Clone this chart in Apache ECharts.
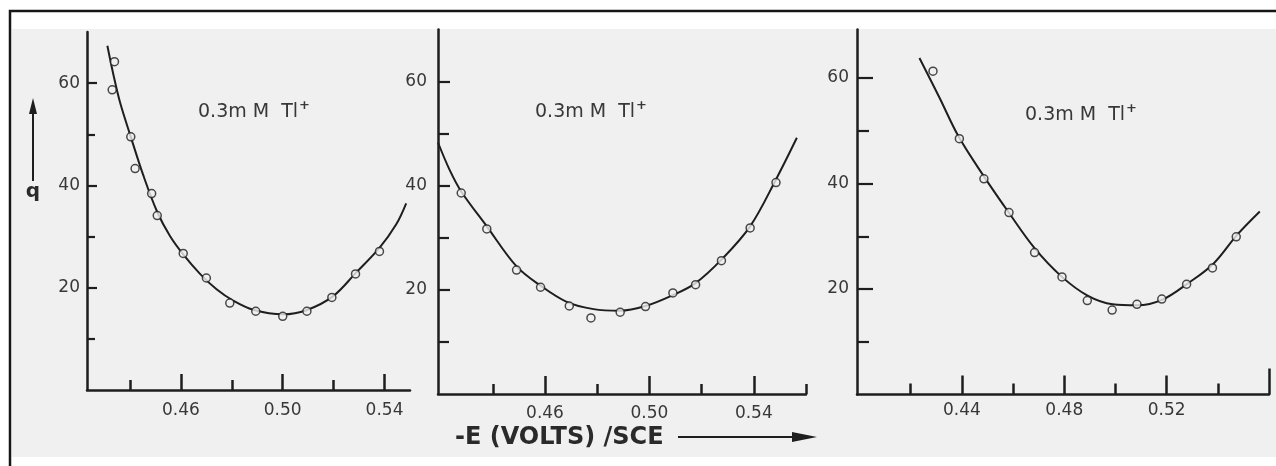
<!DOCTYPE html>
<html>
<head>
<meta charset="utf-8">
<title>Differential capacity q vs potential, 0.3 mM Tl+</title>
<script src="https://cdn.jsdelivr.net/npm/echarts@6/dist/echarts.min.js"></script>
<style>
  html, body { margin: 0; padding: 0; background: #ffffff; }
  #chart { width: 1276px; height: 466px; }
</style>
</head>
<body>
<div id="chart"></div>
<script>
// ---- measured points (open circles) and fitted curves, one set per panel ----
const e1 = [0.4339, 0.4330, 0.4403, 0.4420, 0.4485, 0.4507, 0.4609, 0.4700, 0.4792, 0.4894, 0.5000, 0.5095, 0.5193, 0.5286, 0.5380];
const q1 = [64.2, 58.7, 49.5, 43.3, 38.4, 34.1, 26.7, 21.9, 17.0, 15.4, 14.4, 15.4, 18.1, 22.7, 27.1];
const fitE1 = [0.4311, 0.4335, 0.4361, 0.4403, 0.4452, 0.4507, 0.4557, 0.4609, 0.4675, 0.4740, 0.4805, 0.4884, 0.5001, 0.5093, 0.5197, 0.5289, 0.5380, 0.5446, 0.5485];
const fitQ1 = [67.3, 61.6, 56.2, 49.5, 42.0, 34.8, 30.1, 26.5, 22.7, 19.7, 17.5, 15.7, 14.8, 15.6, 18.3, 23.0, 27.8, 32.4, 36.5];

const e2 = [0.4279, 0.4377, 0.4491, 0.4583, 0.4693, 0.4776, 0.4888, 0.4985, 0.5090, 0.5177, 0.5276, 0.5386, 0.5485];
const q2 = [38.6, 31.7, 23.8, 20.5, 16.9, 14.6, 15.7, 16.8, 19.4, 21.0, 25.6, 31.9, 40.6];
const fitE2 = [0.4190, 0.4234, 0.4279, 0.4377, 0.4491, 0.4583, 0.4683, 0.4786, 0.4888, 0.4985, 0.5090, 0.5177, 0.5276, 0.5386, 0.5485, 0.5565];
const fitQ2 = [48.3, 43.1, 38.9, 32.2, 24.5, 20.8, 17.7, 16.3, 16.0, 16.9, 19.0, 21.3, 25.8, 32.2, 41.2, 49.2];

const e3 = [0.4287, 0.4390, 0.4486, 0.4584, 0.4684, 0.4791, 0.4890, 0.4987, 0.5084, 0.5181, 0.5278, 0.5379, 0.5472];
const q3 = [61.3, 48.5, 40.9, 34.5, 26.9, 22.3, 17.8, 16.0, 17.1, 18.1, 20.9, 24.0, 29.9];
const fitE3 = [0.4234, 0.4312, 0.4387, 0.4484, 0.4583, 0.4683, 0.4791, 0.4891, 0.4989, 0.5086, 0.5184, 0.5281, 0.5383, 0.5476, 0.5564];
const fitQ3 = [63.8, 56.3, 48.9, 41.5, 34.5, 27.8, 22.3, 18.75, 17.1, 16.9, 18.0, 21.0, 24.8, 30.3, 34.7];

// ---- tick positions ----
const xMajor1 = [0.46, 0.50, 0.54];
const xMinor1 = [0.44, 0.48, 0.52];
const xMajor2 = [0.46, 0.50, 0.54];
const xMinor2 = [0.44, 0.48, 0.52, 0.56];
const xMajor3 = [0.44, 0.48, 0.52];
const xMinor3 = [0.42, 0.46, 0.50, 0.54];
const xEnd3 = [0.56];
const yMajor = [20, 40, 60];
const yMinor = [10, 30, 50];

const panelLabel = '0.3m M  Tl';
const xTitle = '-E (VOLTS) /SCE';
const yTitle = 'q';

const INK = '#1e1e1e';
const TXT = '#383838';
const BG = '#f0f0f0';
const FONT = 'DejaVu Sans';

const zip = (a, b) => a.map((v, i) => [v, b[i]]);

// panel frames in pixels
const panels = [
  { left: 87,  top: 32,   width: 323, height: 358, xMin: 0.4231, xMax: 0.55, yMax: 70,
    major: xMajor1, minor: xMinor1, xMargin: 12, yMargin: 7, yTick: [10, 8], xTick: [16, 10] },
  { left: 438, top: 29.5, width: 368, height: 364.5, xMin: 0.419, xMax: 0.56, yMax: 70,
    major: xMajor2, minor: xMinor2, xMargin: 11, yMargin: 11, yTick: [12, 11], xTick: [18, 10] },
  { left: 857, top: 29.5, width: 412, height: 365, xMin: 0.399, xMax: 0.56, yMax: 69.2,
    major: xMajor3, minor: xMinor3, xMargin: 8, yMargin: 8, yTick: [16, 12], xTick: [19, 11] }
];

const grid = [], xAxis = [], yAxis = [];
panels.forEach((p, i) => {
  grid.push({ left: p.left, top: p.top, width: p.width, height: p.height, containLabel: false });
  const common = { type: 'value', gridIndex: i, min: p.xMin, max: p.xMax, splitLine: { show: false } };
  // main x axis: line, long ticks, labels
  xAxis.push(Object.assign({}, common, {
    position: 'bottom',
    axisLine: { show: true, onZero: false, lineStyle: { color: INK, width: 2.5 } },
    axisTick: { show: true, inside: true, length: p.xTick[0], customValues: p.major, lineStyle: { color: INK, width: 2.5 } },
    axisLabel: { show: true, customValues: p.major, margin: p.xMargin, color: TXT, fontFamily: FONT, fontSize: 17,
      formatter: v => v.toFixed(2) }
  }));
  // short intermediate ticks
  xAxis.push(Object.assign({}, common, {
    position: 'bottom',
    axisLine: { show: false, onZero: false },
    axisTick: { show: true, inside: true, length: p.xTick[1], customValues: p.minor, lineStyle: { color: INK, width: 2.5 } },
    axisLabel: { show: false }
  }));
  const yCommon = { type: 'value', gridIndex: i, min: 0, max: p.yMax, splitLine: { show: false } };
  yAxis.push(Object.assign({}, yCommon, {
    position: 'left',
    axisLine: { show: true, onZero: false, lineStyle: { color: INK, width: 2.5 } },
    axisTick: { show: true, inside: true, length: p.yTick[0], customValues: yMajor, lineStyle: { color: INK, width: 2.2 } },
    axisLabel: { show: true, customValues: yMajor, margin: p.yMargin, color: TXT, fontFamily: FONT, fontSize: 17 }
  }));
  yAxis.push(Object.assign({}, yCommon, {
    position: 'left',
    axisLine: { show: false, onZero: false },
    axisTick: { show: true, inside: true, length: p.yTick[1], customValues: yMinor, lineStyle: { color: INK, width: 2.2 } },
    axisLabel: { show: false }
  }));
});

// closing tick at the far end of the third panel's abscissa
xAxis.push({
  type: 'value', gridIndex: 2, min: panels[2].xMin, max: panels[2].xMax, position: 'bottom',
  splitLine: { show: false }, axisLine: { show: false, onZero: false }, axisLabel: { show: false },
  axisTick: { show: true, inside: true, length: 26, customValues: xEnd3, lineStyle: { color: INK, width: 2.5 } }
});

const fits = [zip(fitE1, fitQ1), zip(fitE2, fitQ2), zip(fitE3, fitQ3)];
const pts = [zip(e1, q1), zip(e2, q2), zip(e3, q3)];
const series = [];
for (let i = 0; i < 3; i++) {
  series.push({
    type: 'line', xAxisIndex: i * 2, yAxisIndex: i * 2, data: fits[i], smooth: 0.35,
    showSymbol: false, silent: true, clip: true,
    lineStyle: { color: INK, width: 2 }
  });
  series.push({
    type: 'scatter', xAxisIndex: i * 2, yAxisIndex: i * 2, data: pts[i],
    symbol: 'circle', symbolSize: 8, z: 5,
    itemStyle: { color: BG, borderColor: INK, borderWidth: 1.5 }
  });
}

const labelPos = [[198, 112], [535, 112], [1025, 115]];
const graphic = [
  { type: 'rect', z: -10, silent: true, shape: { x: 12, y: 29, width: 1270, height: 428 }, style: { fill: BG } },
  { type: 'rect', z: 100, silent: true, shape: { x: 10, y: 11, width: 1300, height: 500 },
    style: { fill: null, stroke: '#161616', lineWidth: 2.5 } }
];
labelPos.forEach(([x, y]) => {
  graphic.push({
    type: 'text', x: x, y: y, z: 10, silent: true,
    style: {
      text: '{a|' + panelLabel + '}{s|+}',
      verticalAlign: 'middle',
      rich: {
        a: { fontFamily: FONT, fontSize: 19, fill: TXT },
        s: { fontFamily: FONT, fontSize: 13, fontWeight: 'bold', fill: TXT, verticalAlign: 'top', padding: [0, 0, 13, 1] }
      }
    }
  });
});
// abscissa title with its arrow
graphic.push({
  type: 'text', x: 455, y: 438, z: 10, silent: true,
  style: { text: xTitle, fontFamily: FONT, fontSize: 24, fontWeight: 'bold', fill: '#2a2a2a', verticalAlign: 'middle' }
});
graphic.push({ type: 'line', z: 10, silent: true, shape: { x1: 678, y1: 437, x2: 802, y2: 437 }, style: { stroke: INK, lineWidth: 2 } });
graphic.push({ type: 'polygon', z: 10, silent: true, shape: { points: [[817, 437], [792, 432], [792, 442]] }, style: { fill: INK } });
// ordinate title with its arrow
graphic.push({
  type: 'text', x: 33, y: 192, z: 10, silent: true,
  style: { text: yTitle, fontFamily: FONT, fontSize: 20, fontWeight: 'bold', fill: '#2a2a2a', align: 'center', verticalAlign: 'middle' }
});
graphic.push({ type: 'line', z: 10, silent: true, shape: { x1: 33, y1: 181, x2: 33, y2: 110 }, style: { stroke: INK, lineWidth: 2 } });
graphic.push({ type: 'polygon', z: 10, silent: true, shape: { points: [[33, 98], [29, 114], [37, 114]] }, style: { fill: INK } });

const chart = echarts.init(document.getElementById('chart'), null, { renderer: 'canvas' });
chart.setOption({
  animation: false,
  backgroundColor: '#ffffff',
  grid, xAxis, yAxis, series, graphic
});
</script>
</body>
</html>
